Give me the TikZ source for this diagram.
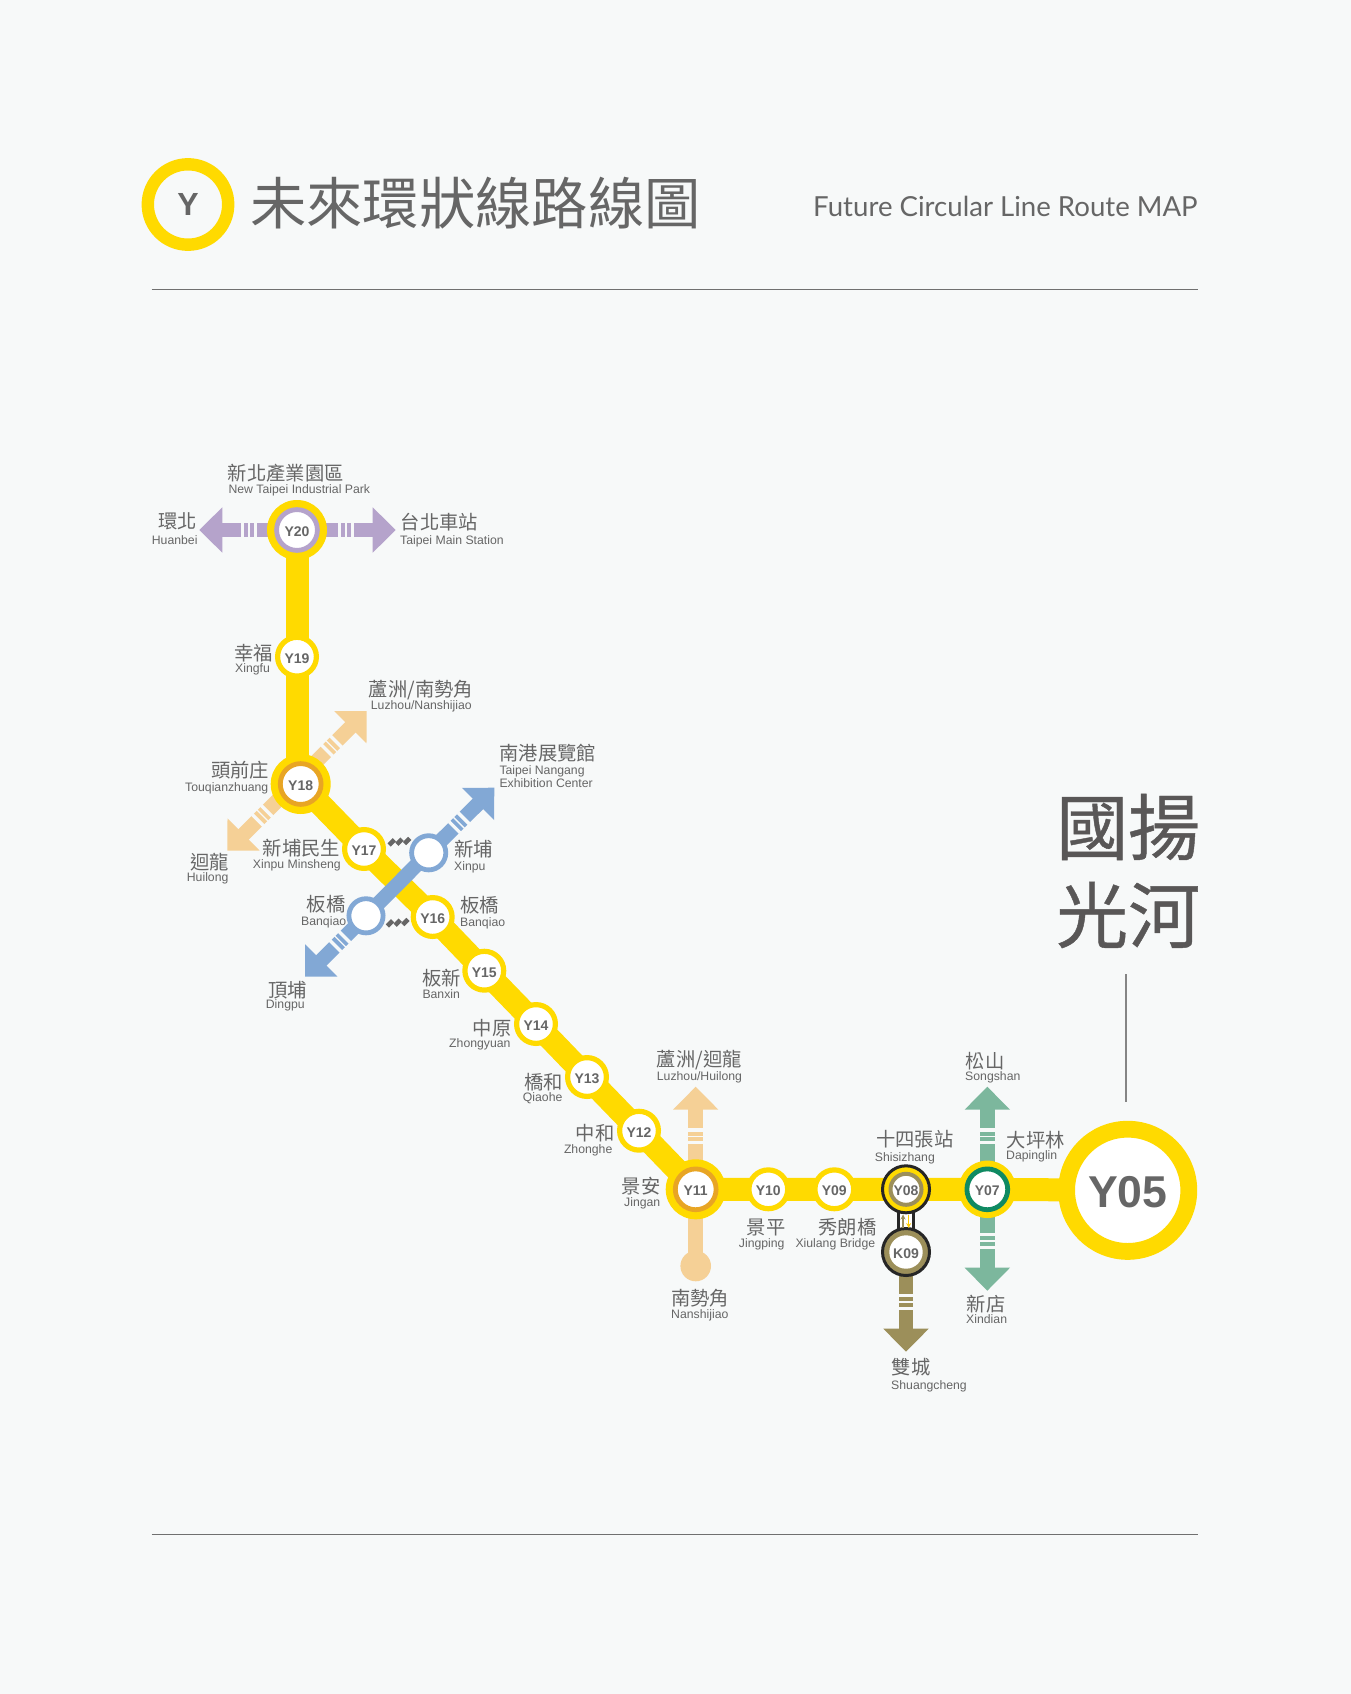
\documentclass[tikz,border=0pt]{standalone}
\usepackage{fontspec}
\usetikzlibrary{arrows.meta}
\setmainfont{Liberation Sans}
\newfontfamily\cjk{Noto Sans CJK TC}
\newfontfamily\brandface[FakeBold=0.6]{Noto Sans CJK TC}
\newfontfamily\latoface{Lato}
\pgfdeclarelayer{bg}
\pgfsetlayers{bg,main}
\definecolor{bgc}{HTML}{F7F9F9}
\definecolor{yl}{HTML}{FFDA00}
\definecolor{peach}{HTML}{F5D096}
\definecolor{purp}{HTML}{B5A3CB}
\definecolor{blu}{HTML}{82A8D5}
\definecolor{grn}{HTML}{7CB79D}
\definecolor{oli}{HTML}{9C8F5A}
\definecolor{org}{HTML}{E8A524}
\definecolor{dgrn}{HTML}{0F8A62}
\definecolor{txt}{HTML}{666666}
\definecolor{rule}{HTML}{707070}
\definecolor{brandc}{HTML}{595757}
\tikzset{
  x=1pt,y=-1pt,
  zh/.style={anchor=west,inner sep=0,text=txt,font=\cjk\fontsize{19.3}{20}\selectfont},
  en/.style={anchor=west,inner sep=0,text=txt,text height=11pt,text depth=1.8pt,font=\fontsize{12.25}{12}\selectfont},
  sid/.style={circle,inner sep=0,text=txt,text height=13pt,text depth=0pt,font=\bfseries\fontsize{14}{14}\selectfont},
  stn/.style={sid,fill=white,draw=yl,line width=5.2pt,minimum size=38.8pt},
  halo/.style={circle,inner sep=0,fill=yl,minimum size=60pt},
  ringed/.style={sid,fill=white,draw=#1,line width=4.8pt,minimum size=40.8pt},
  xfer/.style={circle,inner sep=0,fill=white,draw=blu,line width=4.8pt,minimum size=34.2pt},
  mainline/.style={yl,line width=23pt},
  shaft/.style={line width=14.7pt},
  rulestyle/.style={rule,line width=1.5pt},
  brand/.style={anchor=west,inner sep=0,text=brandc,font=\brandface\fontsize{72}{72}\selectfont},
}
\newcommand\tiphead[3]{%
  \fill[#1,shift={(#2)},rotate=#3] (0,0)--(-23,22.7)--(-23,-22.7)--cycle;
  \foreach \d/\w in {43.3/3.4,49.8/1.3,56/3.3}
    \draw[bgc,line width=\w pt,shift={(#2)},rotate=#3] (-\d,-8)--(-\d,8);
}
\newcommand\ticks[2]{%
  \foreach \dx/\dy in {-7.7/0.7,0/0,7.7/-0.7}
    \draw[txt,line width=4.6pt,shift={(#1,#2)}] (\dx-2.6,\dy+2.6)--(\dx+2.6,\dy-2.6);
}
\begin{document}
\begin{tikzpicture}
\useasboundingbox (0,0) rectangle (1351,1694);
% header
\node[circle,inner sep=0,draw=yl,line width=12.4pt,minimum size=80.4pt,text=txt,font=\bfseries\fontsize{32}{32}\selectfont] (logo) at (188,204.5) {Y};
\node[anchor=west,inner sep=0,text=txt,font=\cjk\fontsize{56.3}{57}\selectfont] (title) at (250,203) {未來環狀線路線圖};
\node[anchor=west,inner sep=0,text=txt,font=\latoface\fontsize{27.6}{28}\selectfont] (titleen) at (813,206) {Future Circular Line Route MAP};
\coordinate (ruleA) at (151.5,289.5); \coordinate (ruleB) at (1197.5,289.5);
\coordinate (ruleC) at (151.5,1534.5); \coordinate (ruleD) at (1197.5,1534.5);
\draw[rulestyle] (ruleA)--(ruleB);
\draw[rulestyle] (ruleC)--(ruleD);
% brand
\node[brand] (brandA) at (1056,827) {國揚};
\node[brand] (brandB) at (1056,915) {光河};
% stations
\node[halo] (Y20h) at (297,530) {};
\node[ringed=purp] (Y20) at (297,530) {Y20};
\node[stn] (Y19) at (297,656.7) {Y19};
\node[halo] (Y18h) at (300.7,784) {};
\node[ringed=org] (Y18) at (300.7,784) {Y18};
\node[stn] (Y17) at (364,849) {Y17};
\node[stn] (Y16) at (432.7,917) {Y16};
\node[stn] (Y15) at (484.3,970.7) {Y15};
\node[stn] (Y14) at (536,1024) {Y14};
\node[stn] (Y13) at (587,1077) {Y13};
\node[stn] (Y12) at (639,1130.7) {Y12};
\node[halo] (Y11h) at (695.7,1189.3) {};
\node[ringed=org] (Y11) at (695.7,1189.3) {Y11};
\node[stn] (Y10) at (768.3,1189.3) {Y10};
\node[stn] (Y09) at (834.3,1189.3) {Y09};
\node[circle,inner sep=0,fill=yl,draw=black!85,line width=3pt,minimum size=47pt] (Y08h) at (906,1189.3) {};
\node[sid,fill=white,draw=oli,line width=4pt,minimum size=31pt] (Y08) at (906,1189.3) {Y08};
\node[circle,inner sep=0,fill=oli,draw=black!85,line width=3pt,minimum size=47pt] (K09h) at (906,1252) {};
\node[sid,fill=white,minimum size=33.4pt] (K09) at (906,1252) {K09};
\node[circle,inner sep=0,fill=yl,minimum size=57.4pt] (Y07h) at (987.3,1189.3) {};
\node[ringed=dgrn] (Y07) at (987.3,1189.3) {Y07};
\node[circle,inner sep=0,fill=white,draw=yl,line width=16.8pt,minimum size=122.2pt,text=txt,text height=34pt,text depth=0pt,font=\bfseries\fontsize{44.6}{45}\selectfont] (Y05) at (1127.7,1190.3) {Y05};
\node[xfer] (xinpu) at (428.7,852.8) {};
\node[xfer] (banq) at (366,915.8) {};
\node[circle,inner sep=0,fill=peach,minimum size=30.6pt] (nanshi) at (695.7,1266) {};
\coordinate (leadtop) at (1126,974); \coordinate (leadend) at (1126,1102);
\draw[rule!85!white,line width=1.5pt] (leadtop)--(leadend);
% ticks between parallel stations
\ticks{399.5}{841.7}
\ticks{397.7}{922.7}
% tips
\coordinate (tHuanbei) at (199.3,530);
\coordinate (tTaipei) at (395.7,530);
\coordinate (tLuzhouA) at (366.7,711);
\coordinate (tHuilong) at (227.3,850.7);
\coordinate (tNangang) at (494.3,787.7);
\coordinate (tDingpu) at (305,976.7);
\coordinate (tLuzhouB) at (695.7,1086.7);
\coordinate (tSongshan) at (987.3,1086.7);
\coordinate (tXindian) at (987.3,1290.7);
\coordinate (tShuang) at (906,1351.7);
\begin{pgfonlayer}{bg}
  \fill[bgc] (0,0) rectangle (1351,1694);
  % branches below the main line
  \draw[purp,shaft,shorten >=15pt] (Y20h.center)--(tHuanbei); \tiphead{purp}{tHuanbei}{180}
  \draw[purp,shaft,shorten >=15pt] (Y20h.center)--(tTaipei); \tiphead{purp}{tTaipei}{0}
  \draw[peach,shaft,shorten >=15pt,shorten <=15pt] (tHuilong)--(tLuzhouA);
  \tiphead{peach}{tLuzhouA}{45} \tiphead{peach}{tHuilong}{225}
  \draw[peach,shaft,shorten >=15pt] (nanshi.center)--(tLuzhouB); \tiphead{peach}{tLuzhouB}{90}
  \draw[grn,shaft,shorten >=15pt] (Y07.center)--(tSongshan); \tiphead{grn}{tSongshan}{90}
  \draw[grn,shaft,shorten >=15pt] (Y07.center)--(tXindian); \tiphead{grn}{tXindian}{270}
  \draw[oli,shaft,shorten >=15pt] (K09.center)--(tShuang); \tiphead{oli}{tShuang}{270}
  % main line
  \draw[mainline] (Y20.center)--(Y19.center)--(Y19.center|-Y18.center);
  \draw[mainline] (Y18.center)--(Y17.center)--(Y16.center)--(Y15.center)--(Y14.center)--(Y13.center)--(Y12.center)--(Y11.center)--(Y10.center)--(Y09.center)--(Y08.center)--(Y07.center)--(Y05.center);
  % blue on top of main line
  \draw[blu,shaft,shorten >=15pt,shorten <=15pt] (tDingpu)--(banq.center)--(xinpu.center)--(tNangang);
  \tiphead{blu}{tNangang}{45} \tiphead{blu}{tDingpu}{225}
  % transfer corridor
  \draw[black!85,line width=18.3pt] (Y08.center)--(K09.center);
  \draw[white,line width=12.5pt] (Y08.center)--(K09.center);
\end{pgfonlayer}
\coordinate (upb) at (903,1228); \coordinate (upe) at (903,1214.5);
\coordinate (dnb) at (908.7,1214.5); \coordinate (dne) at (908.7,1228);
\draw[oli,line width=1.5pt,-{Stealth[length=5pt,width=5pt]}] (upb)--(upe);
\draw[yl!85!orange,line width=1.5pt,-{Stealth[length=5pt,width=5pt]}] (dnb)--(dne);
% labels
\node[zh] (l1) at (227.7,473) {新北產業園區};
\node[en] (l1e) at (228.3,489.3) {New Taipei Industrial Park};
\node[zh] (l2) at (158,521.7) {環北};
\node[en] (l2e) at (151.7,539.7) {Huanbei};
\node[zh] (l3) at (400.7,522) {台北車站};
\node[en] (l3e) at (400,540) {Taipei Main Station};
\node[zh] (l4) at (234,653.3) {幸福};
\node[en] (l4e) at (235,667.7) {Xingfu};
\node[zh] (l5) at (368.7,690) {蘆洲/南勢角};
\node[en] (l5e) at (370.7,705) {Luzhou/Nanshijiao};
\node[zh] (l6) at (211,770) {頭前庄};
\node[en] (l6e) at (185,786.7) {Touqianzhuang};
\node[zh] (l7) at (499.3,753.3) {南港展覽館};
\node[en] (l7e) at (499.3,770) {Taipei Nangang};
\node[en] (l7f) at (499.3,782.7) {Exhibition Center};
\node[zh] (l8) at (262.7,848.3) {新埔民生};
\node[en] (l8e) at (252.7,864.3) {Xinpu Minsheng};
\node[zh] (l9) at (454,849) {新埔};
\node[en] (l9e) at (454,865.7) {Xinpu};
\node[zh] (l10) at (190,861.7) {迴龍};
\node[en] (l10e) at (186.7,877.3) {Huilong};
\node[zh] (l11) at (306.7,904.3) {板橋};
\node[en] (l11e) at (301,921) {Banqiao};
\node[zh] (l12) at (460,905) {板橋};
\node[en] (l12e) at (460,921.7) {Banqiao};
\node[zh] (l13) at (268.3,990) {頂埔};
\node[en] (l13e) at (265.7,1004) {Dingpu};
\node[zh] (l14) at (422.3,977.7) {板新};
\node[en] (l14e) at (422.3,994) {Banxin};
\node[zh] (l15) at (472.7,1028.3) {中原};
\node[en] (l15e) at (449,1043) {Zhongyuan};
\node[zh] (l16) at (524,1082) {橋和};
\node[en] (l16e) at (522.7,1097.3) {Qiaohe};
\node[zh] (l17) at (575.6,1133) {中和};
\node[en] (l17e) at (563.8,1149) {Zhonghe};
\node[zh] (l18) at (621.7,1186) {景安};
\node[en] (l18e) at (624,1201.7) {Jingan};
\node[zh] (l19) at (656.7,1060) {蘆洲/迴龍};
\node[en] (l19e) at (656.7,1076) {Luzhou/Huilong};
\node[zh] (l20) at (746.7,1227.3) {景平};
\node[en] (l20e) at (738.7,1243.3) {Jingping};
\node[zh] (l21) at (818.3,1227) {秀朗橋};
\node[en] (l21e) at (795.3,1243) {Xiulang Bridge};
\node[zh] (l22) at (671,1297.7) {南勢角};
\node[en] (l22e) at (671,1314) {Nanshijiao};
\node[zh] (l23) at (876,1139.3) {十四張站};
\node[en] (l23e) at (874.7,1156.7) {Shisizhang};
\node[zh] (l24) at (965.7,1060.7) {松山};
\node[en] (l24e) at (965,1076) {Songshan};
\node[zh] (l25) at (1006.7,1140) {大坪林};
\node[en] (l25e) at (1006,1155) {Dapinglin};
\node[zh] (l26) at (966.7,1304) {新店};
\node[en] (l26e) at (966,1318.7) {Xindian};
\node[zh] (l27) at (891.7,1366.7) {雙城};
\node[en] (l27e) at (891,1385) {Shuangcheng};
\end{tikzpicture}
\end{document}
